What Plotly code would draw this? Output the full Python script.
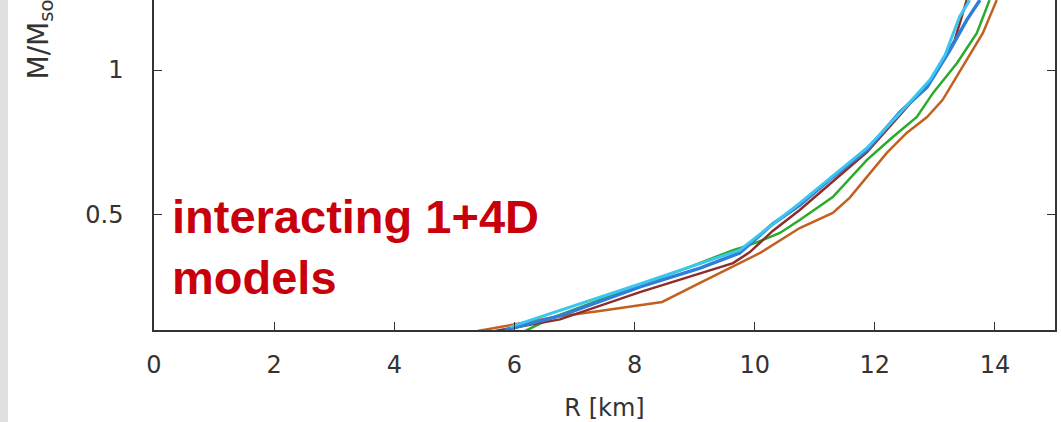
import plotly.graph_objects as go

# radius [km] and mass [M_sol] for each model curve
brown_r = [5.39, 6.67, 7.42, 8.26, 8.46, 9.09, 10.09, 10.75, 11.30, 11.58, 11.87, 12.20, 12.53, 12.87, 13.13, 13.53, 13.80, 14.03]
brown_m = [0.10, 0.148, 0.169, 0.193, 0.20, 0.266, 0.369, 0.455, 0.507, 0.559, 0.631, 0.714, 0.783, 0.838, 0.897, 1.034, 1.128, 1.241]

green_r = [6.18, 6.62, 7.42, 8.92, 9.64, 9.92, 10.14, 10.42, 10.75, 11.30, 11.87, 12.30, 12.70, 12.97, 13.37, 13.70, 13.91]
green_m = [0.10, 0.145, 0.207, 0.321, 0.379, 0.397, 0.414, 0.438, 0.483, 0.562, 0.69, 0.769, 0.838, 0.921, 1.024, 1.128, 1.241]

darkred_r = [5.68, 6.76, 8.09, 9.64, 9.92, 10.30, 10.75, 11.87, 12.42, 13.00, 13.33, 13.53]
darkred_m = [0.10, 0.140, 0.234, 0.334, 0.372, 0.445, 0.517, 0.717, 0.845, 0.983, 1.103, 1.241]

blue_r = [5.84, 6.76, 8.09, 9.09, 9.75, 10.04, 10.30, 10.75, 11.30, 11.87, 12.42, 12.87, 13.25, 13.53, 13.75]
blue_m = [0.103, 0.152, 0.252, 0.317, 0.369, 0.421, 0.469, 0.534, 0.631, 0.724, 0.855, 0.941, 1.069, 1.172, 1.241]

cyan_r = [5.93, 8.09, 9.75, 10.09, 10.75, 11.87, 12.42, 12.92, 13.17, 13.41, 13.58]
cyan_m = [0.114, 0.262, 0.379, 0.434, 0.541, 0.731, 0.852, 0.966, 1.052, 1.183, 1.241]

x_ticks = [0, 2, 4, 6, 8, 10, 12, 14]
y_ticks = [0.5, 1]
y_tick_labels = ["0.5", "1"]

series = [
    (brown_r, brown_m, "#c2601f", 2.5),
    (green_r, green_m, "#2aab2a", 2.5),
    (darkred_r, darkred_m, "#8e2c2c", 2.5),
    (blue_r, blue_m, "#2f7fd8", 3.5),
    (cyan_r, cyan_m, "#3cc6ee", 3.0),
]

fig = go.Figure()
for r, m, c, w in series:
    fig.add_trace(go.Scatter(x=r, y=m, mode="lines", line=dict(color=c, width=w),
                             showlegend=False, hoverinfo="skip"))

axis_font = dict(family="DejaVu Sans", size=24, color="#333333")

fig.update_layout(
    width=1061, height=422,
    margin=dict(l=154, r=6, t=0, b=92),
    paper_bgcolor="white", plot_bgcolor="white",
    xaxis=dict(range=[0, 15], tickvals=x_ticks, ticks="inside", ticklen=8,
               tickcolor="#333333", showline=True, linecolor="#333333", linewidth=1.5,
               mirror=False, showgrid=False, zeroline=False, tickfont=axis_font,
               ticklabelstandoff=12,
               title=dict(text="R [km]", font=axis_font, standoff=24)),
    yaxis=dict(range=[0.1034, 1.2414], tickvals=y_ticks, ticktext=y_tick_labels,
               ticks="inside", ticklen=8, tickcolor="#333333", showline=True,
               linecolor="#333333", linewidth=1.5, mirror="ticks", showgrid=False,
               zeroline=False, tickfont=axis_font, ticklabelstandoff=24),
    shapes=[dict(type="rect", xref="paper", yref="paper", x0=-0.171, x1=-0.1620,
                 y0=-0.5, y1=1.5, fillcolor="#e0e0e0", line=dict(width=0), layer="below")],
    annotations=[
        dict(text="M/M<sub>sol</sub>", textangle=-90, xref="paper", yref="paper",
             x=-0.1265, y=0.7515, xanchor="center", yanchor="bottom", showarrow=False,
             font=dict(family="DejaVu Sans", size=28, color="#333333")),
        dict(text="<b>interacting 1+4D<br>models</b>", xref="paper", yref="paper",
             x=0.0178, y=0.252, xanchor="left", yanchor="middle", align="left",
             showarrow=False, font=dict(family="Liberation Sans", size=47, color="#c8000c")),
    ],
)

fig.write_html("out.html", config={"displayModeBar": False},
               post_script="document.body.style.margin='0';")
